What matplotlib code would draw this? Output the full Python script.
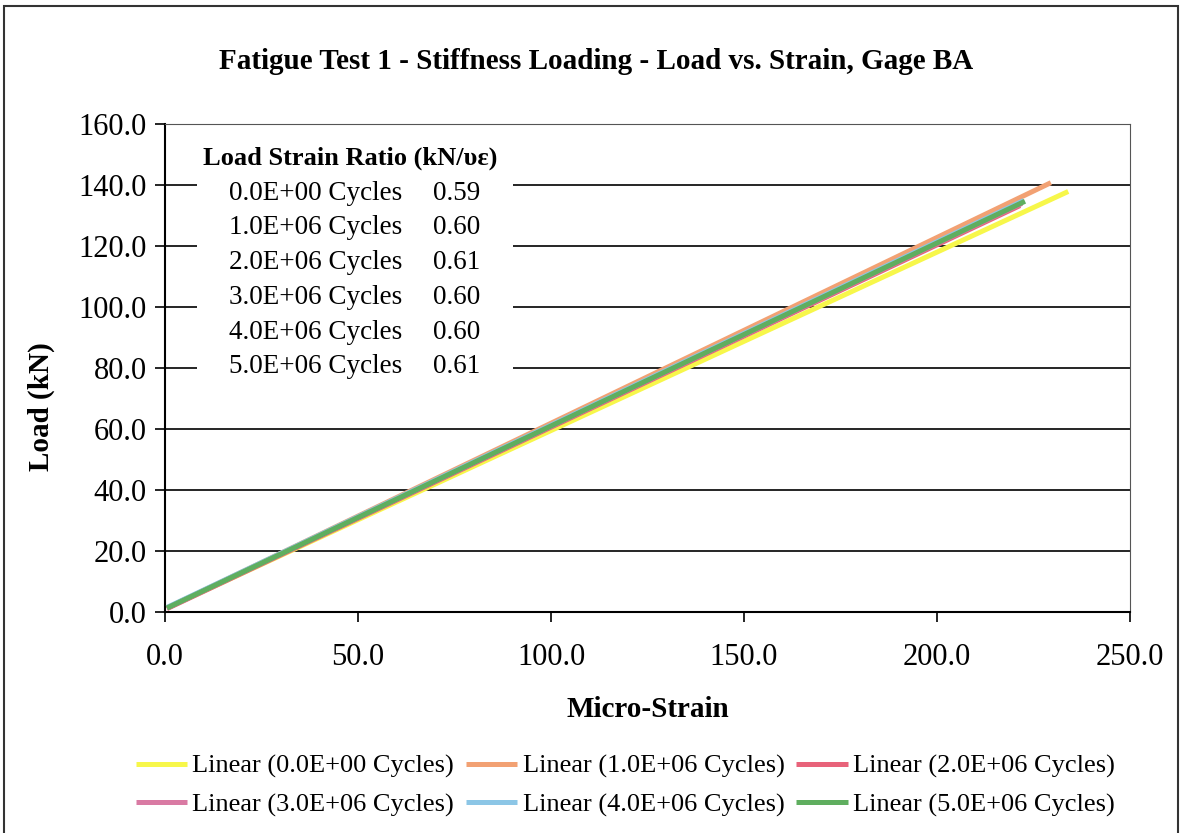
import matplotlib
matplotlib.use("Agg")
import matplotlib.pyplot as plt
import numpy as np
from matplotlib.patches import Rectangle

# ---- data ----
series_labels = ["0.0E+00 Cycles", "1.0E+06 Cycles", "2.0E+06 Cycles",
                 "3.0E+06 Cycles", "4.0E+06 Cycles", "5.0E+06 Cycles"]
ratios = ["0.59", "0.60", "0.61", "0.60", "0.60", "0.61"]
# fitted lines as drawn: y = slope * x + intercept over [x_start, x_end]
slopes = [0.585, 0.609, 0.598, 0.599, 0.601, 0.600]
intercepts = [1.0, 1.0, 0.8, 1.0, 1.2, 1.0]
x_start = [0.5, 0.5, 0.5, 0.5, 0.5, 0.5]
x_end = [234.0, 229.5, 221.5, 222.0, 222.5, 222.8]
colors = ["#f7f74a", "#f2a173", "#e8637a", "#d97aa3", "#8cc6e6", "#5fae5f"]

x_ticks = [0.0, 50.0, 100.0, 150.0, 200.0, 250.0]
y_ticks = [0.0, 20.0, 40.0, 60.0, 80.0, 100.0, 120.0, 140.0, 160.0]

plt.rcParams['font.family'] = ['Liberation Serif', 'DejaVu Serif']

fig = plt.figure(figsize=(11.82, 8.33), dpi=100)
ax = fig.add_axes([0.1396, 0.2653, 0.8164, 0.5858])

handles = []
for i in range(6):
    xs = np.array([x_start[i], x_end[i]])
    ys = slopes[i] * xs + intercepts[i]
    h, = ax.plot(xs, ys, color=colors[i], lw=3.6, solid_capstyle='butt',
                 label="Linear (" + series_labels[i] + ")", zorder=3 + i * 0.1)
    handles.append(h)

ax.set_xlim(0, 250)
ax.set_ylim(0, 160)
ax.set_xticks(x_ticks)
ax.set_yticks(y_ticks)
ax.set_xticklabels([f"{v:.1f}" for v in x_ticks], fontsize=22)
ax.set_yticklabels([f"{v:.1f}" for v in y_ticks], fontsize=22)
ax.tick_params(direction='out', length=7, width=1.2)
ax.tick_params(axis='x', pad=15)
ax.tick_params(axis='y', pad=6)
ax.yaxis.grid(True, color='black', lw=1.2)
ax.set_axisbelow(True)
for s in ['left', 'bottom']:
    ax.spines[s].set_linewidth(1.5)
for s in ['right', 'top']:
    ax.spines[s].set_linewidth(0.8)
    ax.spines[s].set_color('#555555')

ax.set_xlabel("Micro-Strain", fontsize=21, fontweight='bold')
ax.xaxis.set_label_coords(0.5, -0.1725)
ax.set_ylabel("Load (kN)", fontsize=21, fontweight='bold')
ax.yaxis.set_label_coords(-0.114, 0.42)

# white box behind the ratio table
ax.add_patch(Rectangle((0.0332, 0.46), 0.3274, 0.51, transform=ax.transAxes,
                       facecolor='white', edgecolor='none', zorder=1.5))
ax.text(0.1917, 0.930, "Load Strain Ratio (kN/\u03c5\u03b5)", transform=ax.transAxes,
        fontsize=19, fontweight='bold', ha='center', va='center', zorder=4)
for i in range(6):
    y = 0.8586 - i * 0.0713
    ax.text(0.0663, y, series_labels[i], transform=ax.transAxes,
            fontsize=19.5, ha='left', va='center', zorder=4)
    ax.text(0.2777, y, ratios[i], transform=ax.transAxes,
            fontsize=19.5, ha='left', va='center', zorder=4)

fig.text(0.504, 0.926, "Fatigue Test 1 - Stiffness Loading - Load vs. Strain, Gage BA",
         fontsize=21, fontweight='bold', ha='center', va='center')

# legend filled row-wise: reorder for matplotlib's column-major filling
order = [0, 3, 1, 4, 2, 5]
leg = fig.legend([handles[k] for k in order], [handles[k].get_label() for k in order],
                 loc='center', bbox_to_anchor=(0.529, 0.057), ncol=3, frameon=False,
                 fontsize=19, handlelength=1.95, handletextpad=0.2, columnspacing=0.45,
                 labelspacing=0.55)

fig.add_artist(Rectangle((0.003, -0.01), 0.994, 1.003, transform=fig.transFigure,
                         facecolor='none', edgecolor='#333333', lw=1.5))

fig.savefig("out.png", dpi=100)
